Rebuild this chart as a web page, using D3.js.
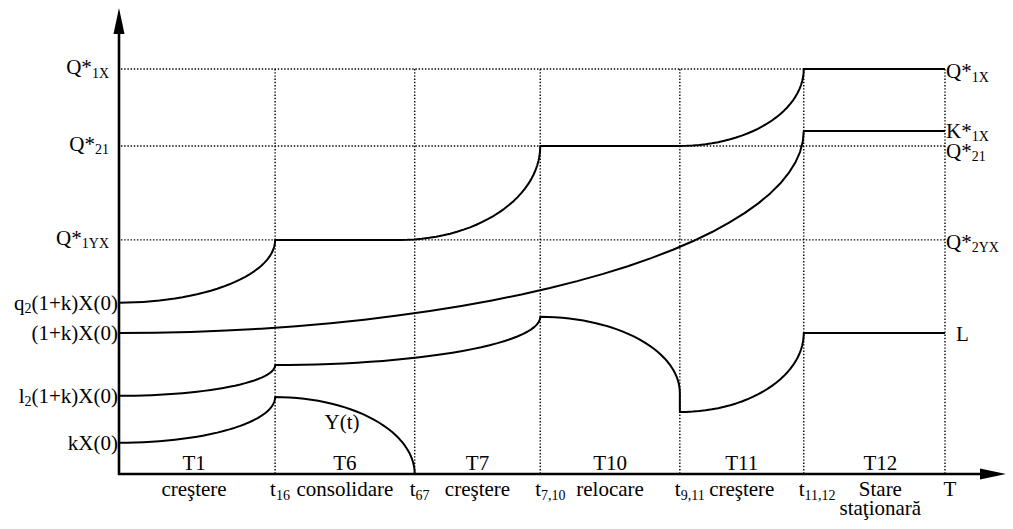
<!DOCTYPE html>
<html><head><meta charset="utf-8">
<script src="https://cdn.jsdelivr.net/npm/d3@7"></script>
<style>
body{margin:0;background:#fff}
text{font-family:"Liberation Serif","Times New Roman",serif;fill:#000;font-size:21px}
</style>
</head><body>
<svg id="c" width="1013" height="529"></svg>
<script>
// ---- DATA (time in arbitrary units, horizon T = 100; levels in arbitrary units) ----
const timeMarks = [
  {parts:[["t",0],["16",1]], t:18.9},
  {parts:[["t",0],["67",1]], t:35.8},
  {parts:[["t",0],["7,10",1]], t:51.0},
  {parts:[["t",0],["9,11",1]], t:67.9},
  {parts:[["t",0],["11,12",1]], t:82.9},
  {parts:[["T",0]], t:100}
];
const phaseNames = ["T1","T6","T7","T10","T11","T12"];
const phaseDescs = [["creştere"],["consolidare"],["creştere"],["relocare"],["creştere"],["Stare","staţionară"]];
const phaseBounds = [0, 18.9, 35.8, 51.0, 67.9, 82.9, 100];

const leftLabels = [
  {parts:[["Q*",0],["1X",1]], v:100},
  {parts:[["Q*",0],["21",1]], v:81},
  {parts:[["Q*",0],["1YX",1]], v:57.8},
  {parts:[["q",0],["2",2],["(1+k)X(0)",0]], v:42.3},
  {parts:[["(1+k)X(0)",0]], v:34.8},
  {parts:[["l",0],["2",2],["(1+k)X(0)",0]], v:19.3},
  {parts:[["kX(0)",0]], v:7.7}
];
const rightLabels = [
  {parts:[["Q*",0],["1X",1]], v:100, off:9},
  {parts:[["K*",0],["1X",1]], v:84.7, off:7},
  {parts:[["Q*",0],["21",1]], v:81, off:12},
  {parts:[["Q*",0],["2YX",1]], v:57.8, off:9},
  {parts:[["L",0]], v:34.8, off:8}
];
const gridLevels = [100, 81, 57.8];

// curves: knots [t, level, shape-from-previous]
const curveQ = [[0,42.3],[18.9,57.8,"arc"],[34,57.8,"line"],[51,81,"arc"],[67.9,81,"line"],[82.9,100,"arc"],[100,100,"line"]];
const curveK = [[0,34.8],[82.9,84.7,"arc"],[100,84.7,"line"]];
const curveL = [[0,19.3],[18.9,26.9,"arc"],[51,38.8,"arc"],[67.9,20.0,"arc"],[67.9,15.3,"line"],[82.9,34.8,"arc"],[100,34.8,"line"]];
const curveY = [[0,7.7],[18.9,19.0,"arc"],[35.8,0,"arc"]];
const curves = [curveQ, curveK, curveL, curveY];
const yLabel = {parts:[["Y(t)",0]], t:27.0, v:11};

// ---- DRAW ----
const svg = d3.select("#c");
const x = d3.scaleLinear().domain([0,100]).range([119,945]);
const y = d3.scaleLinear().domain([0,100]).range([474,69]);

function addParts(sel, parts){
  let shift = 0;
  parts.forEach(([s,k])=>{
    const ts = sel.append("tspan").text(s);
    const target = k===1 ? 3.5 : (k===2 ? 3 : 0);
    ts.attr("dy", target - shift);
    if(k) ts.style("font-size", "14px");
    shift = target;
  });
}

// grid (dotted)
const grid = svg.append("g").attr("stroke","#000").attr("stroke-width",1.4).attr("stroke-dasharray","1.4,1.8");
gridLevels.forEach(v=>{
  grid.append("line").attr("x1",x(0)+2).attr("x2",x(100)).attr("y1",y(v)).attr("y2",y(v));
});
timeMarks.forEach(m=>{
  grid.append("line").attr("x1",x(m.t)).attr("x2",x(m.t)).attr("y1",y(100)).attr("y2",y(0));
});

// curves
function buildPoints(knots){
  const pts = [[knots[0][0], knots[0][1]]];
  for(let i=1;i<knots.length;i++){
    const [x0,y0] = knots[i-1], [x1,y1,shape] = knots[i];
    if(shape==="arc"){
      for(let a=3;a<=90;a+=3){
        const th = a*Math.PI/180;
        pts.push([x0+(x1-x0)*Math.sin(th), y1+(y0-y1)*Math.cos(th)]);
      }
    } else pts.push([x1,y1]);
  }
  return pts;
}
const line = d3.line().x(d=>x(d[0])).y(d=>y(d[1]));
svg.append("g").selectAll("path").data(curves).join("path")
  .attr("d", d=>line(buildPoints(d)))
  .attr("fill","none").attr("stroke","#000").attr("stroke-width",2).attr("stroke-linejoin","round");

// axes
const ax = svg.append("g");
ax.append("line").attr("x1",x(0)).attr("x2",x(0)).attr("y1",y(0)+1).attr("y2",30).attr("stroke","#000").attr("stroke-width",2.6);
ax.append("path").attr("d",`M${x(0)},8L${x(0)-5.5},34L${x(0)+5.5},34Z`).attr("fill","#000");
ax.append("line").attr("x1",x(0)-1).attr("x2",982).attr("y1",y(0)).attr("y2",y(0)).attr("stroke","#000").attr("stroke-width",2.6);
ax.append("path").attr("d",`M1006,${y(0)}L980,${y(0)-5.5}L980,${y(0)+5.5}Z`).attr("fill","#000");

// left labels
leftLabels.forEach(l=>{
  const isQ = l.parts[0][0]==="Q*";
  const t = svg.append("text").attr("x", isQ ? 109 : 118).attr("y", y(l.v)+ (isQ?5:7)).attr("text-anchor","end");
  addParts(t, l.parts);
});
// right labels
rightLabels.forEach(l=>{
  const t = svg.append("text").attr("x", l.parts[0][0]==="L" ? 956 : 946).attr("y", y(l.v)+l.off);
  addParts(t, l.parts);
});
// time marks
timeMarks.forEach(m=>{
  const t = svg.append("text").attr("x", x(m.t) + (m.parts.length>1 ? -5 : 5)).attr("y", 496)
    .attr("text-anchor", m.parts.length>1 ? "start" : "middle");
  addParts(t, m.parts);
});
// phases
phaseNames.forEach((n,i)=>{
  const cx = (x(phaseBounds[i])+x(phaseBounds[i+1]))/2 + (i===5 ? 6 : 0) + (i===0 ? -3 : 0);
  svg.append("text").attr("x",cx).attr("y",470).attr("text-anchor","middle").text(n);
  phaseDescs[i].forEach((d,j)=>{
    svg.append("text").attr("x",cx).attr("y",496 + j*19).attr("text-anchor","middle").text(d);
  });
});
// Y(t)
const yl = svg.append("text").attr("x", x(yLabel.t)).attr("y", y(yLabel.v)).attr("text-anchor","middle");
addParts(yl, yLabel.parts);
</script>
</body></html>
